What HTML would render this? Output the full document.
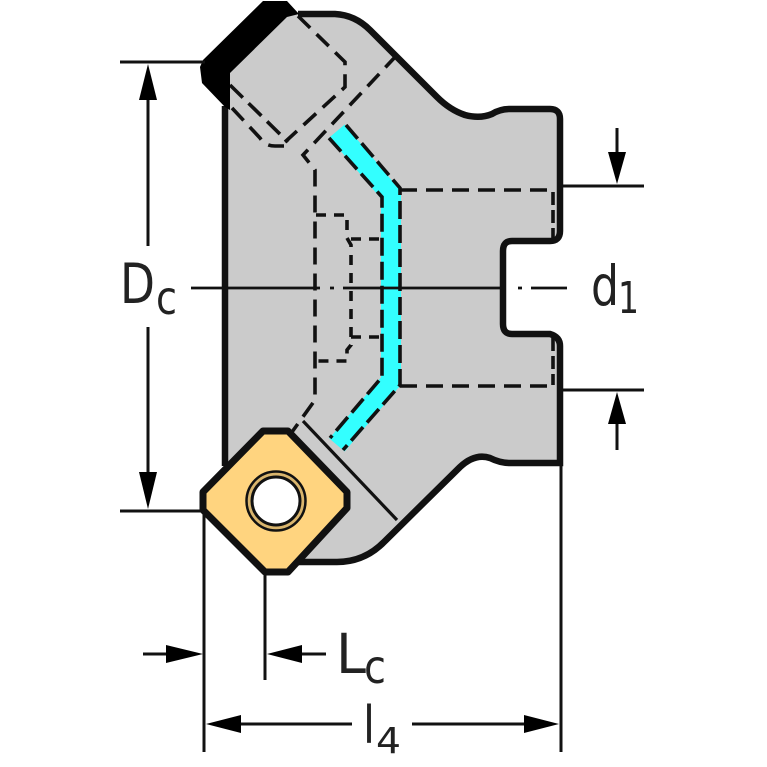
<!DOCTYPE html>
<html><head><meta charset="utf-8"><style>html,body{margin:0;padding:0;background:#fff}svg{display:block}text{font-family:"DejaVu Sans","Liberation Sans",sans-serif;fill:#222}</style></head><body>
<svg width="767" height="767" viewBox="0 0 767 767" xmlns="http://www.w3.org/2000/svg">
<!-- body -->
<path d="M226 75L290 14H335Q355 15 370 30L437 97Q450 110 465 115Q480 119 492 114Q500 109 510 109H550Q560 109 560 119V231Q560 241 550 241H512Q503 241 503 251V324Q503 334 512 334H550Q560 337 560 346V463H510Q500 463 490 458Q475 453 460 467L385 541Q365 562 337 562H300L226 480Z" fill="#cbcbcb"/>
<!-- cyan -->
<path d="M337 131L391 195V381L337 445" fill="none" stroke="#33ffff" stroke-width="20"/>
<!-- dashes -->
<g fill="none" stroke="#111" stroke-width="3.6" stroke-dasharray="17 9">
<path d="M298 16L345 62V87L285 142"/>
<path d="M397 55L303 155L315 170V400L292 432" />
<path d="M230 85L288 142" stroke-dasharray="18 8"/>
<path d="M232 108L260 138Q265 146 275 146H284"/>
<path d="M329 138L382 197V377L330 438" stroke-dasharray="18 6"/>
<path d="M346 125L400 188V385L343 450" stroke-dasharray="18 6"/>
<path d="M400 190H552"/>
<path d="M400 386H552"/>
<path d="M553 192V240" stroke-dasharray="13 5"/>
<path d="M553 338V385" stroke-dasharray="13 5"/>
<path d="M316 215H347V238L351 245V345L347 350V361H316" stroke-dasharray="10 8"/>
<path d="M351 239H381" stroke-dasharray="10 8"/>
<path d="M351 337H381" stroke-dasharray="10 8"/>
</g>
<!-- seat line -->
<path d="M303 421L397 520" fill="none" stroke="#111" stroke-width="3.2"/>
<!-- outline -->
<path d="M225 106V466M298 14H335Q355 15 370 30L437 97Q450 110 465 115Q480 119 492 114Q500 109 510 109H550Q560 109 560 119V231Q560 241 550 241H512Q503 241 503 251V324Q503 334 512 334H550Q560 337 560 346V463H510Q500 463 490 458Q475 453 460 467L385 541Q365 562 337 562H298" fill="none" stroke="#111" stroke-width="6.5"/>
<!-- black insert -->
<path d="M200 67L203 60L263 1H287L299 14L287 17L230 73V110L225 107L202 83Z" fill="#000"/>
<!-- orange insert -->
<path d="M263 431H288L347 492V508L288 572H265L203 510V492Z" fill="#ffd47f" stroke="#111" stroke-width="7" stroke-linejoin="round"/>
<circle cx="276" cy="501" r="29.5" fill="#d9b56d" stroke="#111" stroke-width="2.5"/>
<circle cx="276" cy="501" r="24" fill="#fff" stroke="#111" stroke-width="3"/>
<!-- dim lines -->
<g fill="none" stroke="#111" stroke-width="3">
<path d="M120 62H205"/>
<path d="M120 511H204"/>
<path d="M148 75V246M148 327V495"/>
<path d="M204 512V752"/>
<path d="M265 575V680"/>
<path d="M561 466V752"/>
<path d="M560 186H644"/>
<path d="M560 390H644"/>
<path d="M617 128V175"/>
<path d="M617 402V450"/>
<path d="M143 654H195"/>
<path d="M275 654H326"/>
<path d="M215 724H352"/>
<path d="M412 724H550"/>
<path d="M191 288H320M330 288H334M343 288H502M518 288H522M531 288H567" stroke-width="2.8"/>
</g>
<!-- arrowheads -->
<g fill="#000">
<path d="M148 64L139 100H157Z"/>
<path d="M148 509L139 472H157Z"/>
<path d="M617 184L608 152H626Z"/>
<path d="M617 392L608 424H626Z"/>
<path d="M203 654L166 645V663Z"/>
<path d="M267 654L302 645V663Z"/>
<path d="M206 724L241 715V733Z"/>
<path d="M559 724L524 715V733Z"/>
</g>
<!-- labels -->
<text x="120" y="303" font-size="55" textLength="35" lengthAdjust="spacingAndGlyphs">D</text>
<text x="156" y="314" font-size="46" textLength="21" lengthAdjust="spacingAndGlyphs">c</text>
<text x="336" y="673" font-size="55" textLength="30" lengthAdjust="spacingAndGlyphs">L</text>
<text x="364" y="683" font-size="46" textLength="22" lengthAdjust="spacingAndGlyphs">c</text>
<text x="363" y="743" font-size="52" textLength="12" lengthAdjust="spacingAndGlyphs">l</text>
<text x="376" y="753" font-size="36" textLength="25" lengthAdjust="spacingAndGlyphs">4</text>
<text x="591" y="305" font-size="55" textLength="28" lengthAdjust="spacingAndGlyphs">d</text>
<text x="618" y="313" font-size="44" textLength="21" lengthAdjust="spacingAndGlyphs">1</text>
</svg>
</body></html>
